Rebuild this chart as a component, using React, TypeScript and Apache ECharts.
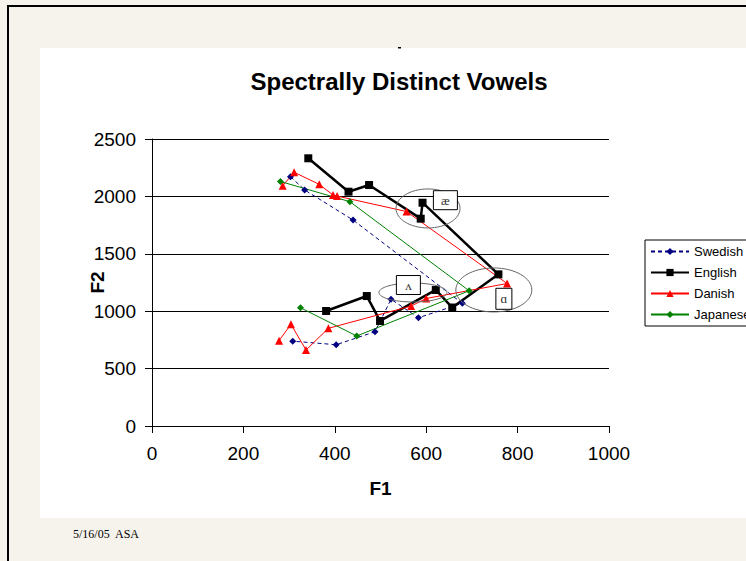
import React, { useEffect, useRef } from "react";
import * as echarts from "echarts";

// ---- data (F1, F2 in Hz) ----
const seriesNames = ["Swedish", "English", "Danish", "Japanese"];
const swedishF1 = [303, 334, 440, 679, 583, 523, 488, 403, 308];
const swedishF2 = [2172, 2056, 1794, 1069, 943, 1104, 821, 708, 739];
const englishF1 = [342, 430, 475, 588, 592, 758, 657, 621, 499, 470, 381];
const englishF2 = [2332, 2041, 2099, 1806, 1945, 1321, 1032, 1185, 915, 1132, 1002];
const danishF1 = [286, 311, 366, 396, 405, 557, 777, 600, 567, 386, 337, 304, 278];
const danishF2 = [2093, 2210, 2105, 2012, 2003, 1868, 1241, 1111, 1045, 851, 662, 886, 743];
const japaneseF1 = [281, 433, 694, 448, 325];
const japaneseF2 = [2130, 1954, 1178, 784, 1030];

const xTicks = [0, 200, 400, 600, 800, 1000];
const yTicks = [0, 500, 1000, 1500, 2000, 2500];

// annotation anchors (data units)
const vowelLabels = ["æ", "ʌ", "ɑ"];
const ellipseF1 = [604, 571, 748];
const ellipseF2 = [1895, 1163, 1185];
const boxF1 = [642, 561, 770];
const boxF2 = [1967, 1228, 1108];

const titleText = "Spectrally Distinct Vowels";
const xTitle = "F1";
const yTitle = "F2";
const footerText = "5/16/05  ASA";

// styles
const ellipseRx = [32, 34, 38];
const ellipseRy = [19.5, 9.5, 22];
const boxW = [24, 24, 16];
const boxH = [19, 19, 21];

const SANS = '"Liberation Sans", Arial, sans-serif';
const SERIF = '"Liberation Serif", "Times New Roman", serif';

export default function App() {
  const ref = useRef<HTMLDivElement>(null);
  useEffect(() => {
    const el = ref.current!;
    const chart = echarts.init(el, null, { renderer: "svg" });
    const mk = (a: number[], b: number[]) => a.map((v, i) => [v, b[i]]);

    const baseGraphic: any[] = [
      { type: "rect", z: -10, shape: { x: 40, y: 48, width: 720, height: 470 }, style: { fill: "#ffffff" } },
      { type: "rect", z: 50, shape: { x: 7, y: 5, width: 2, height: 560 }, style: { fill: "#000" } },
      { type: "rect", z: 50, shape: { x: 7, y: 5, width: 745, height: 2 }, style: { fill: "#000" } },
      { type: "rect", z: 50, shape: { x: 398, y: 47, width: 3, height: 1.5 }, style: { fill: "#000" } },
      {
        type: "text",
        z: 50,
        x: 73,
        y: 534,
        style: { text: footerText, font: `12px ${SERIF}`, fill: "#000", verticalAlign: "middle", align: "left" },
      },
    ];

    const option: any = {
      animation: false,
      backgroundColor: "#F6F2EC",
      title: {
        text: titleText,
        left: 394,
        top: 64,
        textAlign: "center",
        textStyle: { fontFamily: SANS, fontWeight: "bold", fontSize: 24, color: "#000" },
      },
      legend: {
        data: seriesNames,
        orient: "vertical",
        left: 645,
        top: 240,
        backgroundColor: "#fff",
        borderColor: "#000",
        borderWidth: 1,
        padding: [5, 30, 5, 5],
        itemGap: 8,
        itemWidth: 38,
        itemHeight: 9,
        textStyle: { fontFamily: SANS, fontSize: 13, color: "#000", lineHeight: 13 },
      },
      grid: { left: 152, top: 139, width: 457, height: 287 },
      xAxis: {
        type: "value",
        min: xTicks[0],
        max: xTicks[xTicks.length - 1],
        interval: xTicks[1] - xTicks[0],
        name: xTitle,
        nameLocation: "middle",
        nameGap: 53,
        nameMoveOverlap: false,
        nameTextStyle: { fontFamily: SANS, fontWeight: "bold", fontSize: 19, color: "#000" },
        axisLine: { lineStyle: { color: "#000", width: 1 } },
        axisTick: { show: true, inside: false, length: 7, lineStyle: { color: "#000" } },
        axisLabel: { fontFamily: SANS, fontSize: 19, color: "#000", margin: 18, formatter: (v: number) => String(v) },
        splitLine: { show: false },
      },
      yAxis: {
        type: "value",
        min: yTicks[0],
        max: yTicks[yTicks.length - 1],
        interval: yTicks[1] - yTicks[0],
        name: yTitle,
        nameLocation: "middle",
        nameGap: 45,
        nameMoveOverlap: false,
        nameTextStyle: { fontFamily: SANS, fontWeight: "bold", fontSize: 19, color: "#000" },
        axisLine: { show: true, lineStyle: { color: "#000", width: 1 } },
        axisTick: { show: true, inside: false, length: 7, lineStyle: { color: "#000" } },
        axisLabel: { fontFamily: SANS, fontSize: 19, color: "#000", margin: 16, formatter: (v: number) => String(v) },
        splitLine: { show: true, lineStyle: { color: "#000", width: 1 } },
      },
      series: [
        {
          name: seriesNames[0],
          type: "line",
          data: mk(swedishF1, swedishF2),
          symbol: "diamond",
          symbolSize: 7,
          itemStyle: { color: "#000080" },
          lineStyle: { color: "#000080", width: 1, type: [4, 3] },
        },
        {
          name: seriesNames[1],
          type: "line",
          data: mk(englishF1, englishF2),
          symbol: "rect",
          symbolSize: 8,
          itemStyle: { color: "#000" },
          lineStyle: { color: "#000", width: 2.5 },
        },
        {
          name: seriesNames[2],
          type: "line",
          data: mk(danishF1, danishF2),
          symbol: "triangle",
          symbolSize: 8,
          itemStyle: { color: "#FF0000" },
          lineStyle: { color: "#FF0000", width: 1 },
        },
        {
          name: seriesNames[3],
          type: "line",
          data: mk(japaneseF1, japaneseF2),
          symbol: "diamond",
          symbolSize: 7,
          itemStyle: { color: "#008000" },
          lineStyle: { color: "#008000", width: 1 },
        },
      ],
      graphic: baseGraphic,
    };
    chart.setOption(option);

    const px = (a: number, b: number) => chart.convertToPixel({ gridIndex: 0 }, [a, b]) as number[];
    const ann: any[] = [];
    vowelLabels.forEach((lab, i) => {
      const c = px(ellipseF1[i], ellipseF2[i]);
      ann.push({
        type: "ellipse",
        z: 100,
        shape: { cx: c[0], cy: c[1], rx: ellipseRx[i], ry: ellipseRy[i] },
        style: { fill: "none", stroke: "#666", lineWidth: 1 },
      });
    });
    vowelLabels.forEach((lab, i) => {
      const b = px(boxF1[i], boxF2[i]);
      ann.push({
        type: "rect",
        z: 101,
        shape: { x: b[0] - boxW[i] / 2, y: b[1] - boxH[i] / 2, width: boxW[i], height: boxH[i] },
        style: { fill: "#fff", stroke: "#000", lineWidth: 1 },
      });
      ann.push({
        type: "text",
        z: 102,
        x: b[0],
        y: b[1],
        style: { text: lab, font: `13px ${SERIF}`, fill: "#333", align: "center", verticalAlign: "middle" },
      });
    });
    chart.setOption({ graphic: [...baseGraphic, ...ann] });

    return () => chart.dispose();
  }, []);

  return (
    <div style={{ position: "fixed", left: 0, top: 0, width: 746, height: 561, overflow: "hidden" }}>
      <div ref={ref} style={{ width: 746, height: 561 }} />
    </div>
  );
}
